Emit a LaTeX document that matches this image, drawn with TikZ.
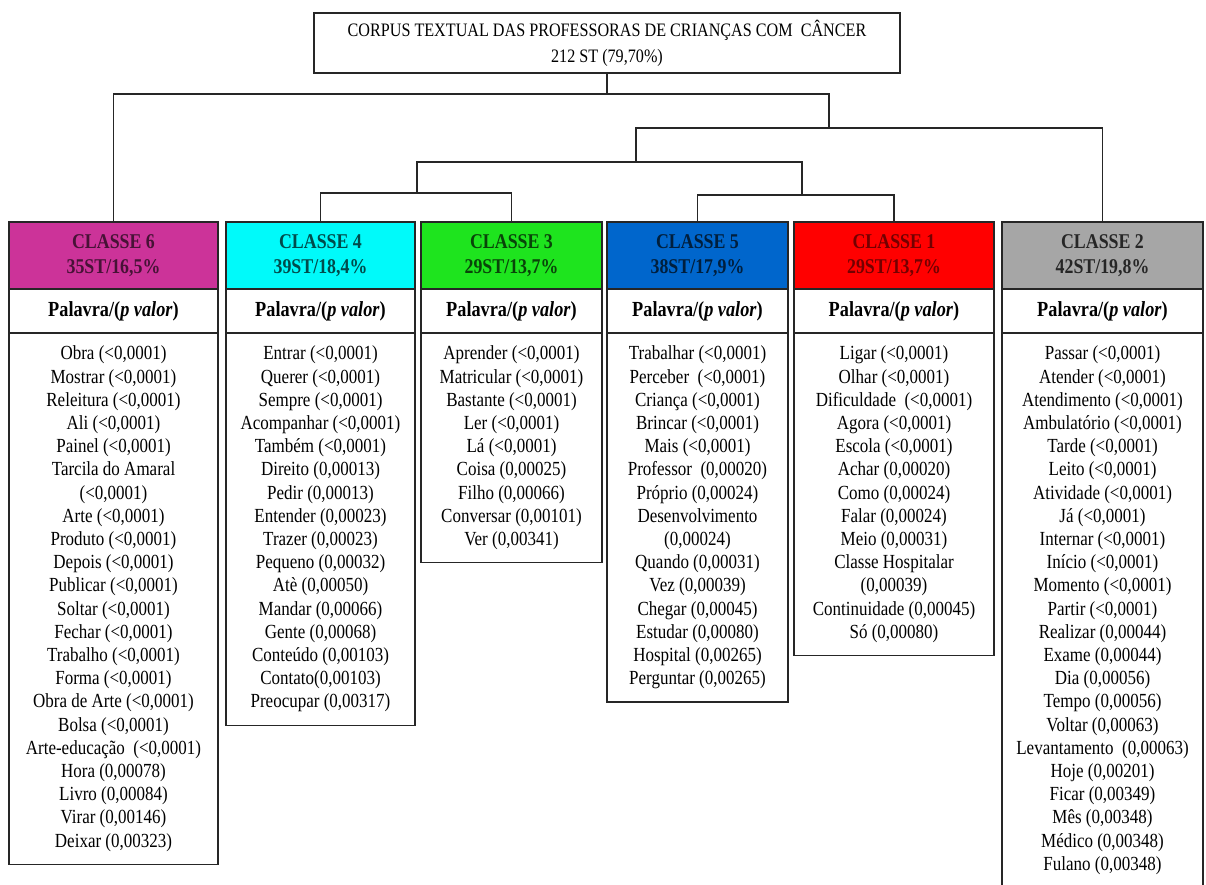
\documentclass[tikz,border=0pt]{standalone}
\usepackage{fontspec}
\setmainfont{Liberation Serif}[FakeStretch=0.85]
\usepackage{tikz}
\usetikzlibrary{positioning}
\definecolor{col6}{RGB}{204,51,153}
\definecolor{col4}{RGB}{0,250,250}
\definecolor{col3}{RGB}{30,228,30}
\definecolor{col5}{RGB}{0,102,204}
\definecolor{col1}{RGB}{255,0,0}
\definecolor{col2}{RGB}{166,166,166}
\tikzset{box/.style={draw=black!85,line width=1.2pt,outer sep=0pt,align=center},
  tree/.style={black!85,line width=1.2pt},
  classhead/.style={box,minimum width=#1,minimum height=67pt,font={\bfseries\fontsize{21}{25}\selectfont}},
  wordhead/.style={box,fill=white,minimum width=#1,minimum height=44pt,font={\bfseries\fontsize{21.5}{25}\selectfont}},
  wordlist/.style={box,fill=white,minimum width=#1,inner ysep=13pt,font={\fontsize{20}{23.2}\selectfont}},
  cls6/.style={fill=col6,text=col6!35!black},cls4/.style={fill=col4,text=col4!30!black},
  cls3/.style={fill=col3,text=col3!30!black},cls5/.style={fill=col5,text=col5!30!black},
  cls1/.style={fill=col1,text=col1!45!black},cls2/.style={fill=col2,text=black!85}}
\newcommand{\palavra}{Palavra/(\textit{p valor})}

\begin{document}
\begin{tikzpicture}[x=1pt,y=-1pt]

\useasboundingbox (0,0) rectangle (1206,885);
\clip (0,0) rectangle (1206,885);

% The corpus
\node[box,minimum width=586pt,minimum height=60pt,font={\fontsize{19}{26}\selectfont}] (corpus) at (607,43) {CORPUS TEXTUAL DAS PROFESSORAS DE CRIANÇAS COM \ CÂNCER\\212 ST (79,70\%)};

% The classes
\node[classhead=209pt,cls6] (class-6) at (113.5,255.5) {CLASSE 6\\35ST/16,5\%};
\node[classhead=189pt,cls4] (class-4) at (320.5,255.5) {CLASSE 4\\39ST/18,4\%};
\node[classhead=181pt,cls3] (class-3) at (511.5,255.5) {CLASSE 3\\29ST/13,7\%};
\node[classhead=181pt,cls5] (class-5) at (697.5,255.5) {CLASSE 5\\38ST/17,9\%};
\node[classhead=200pt,cls1] (class-1) at (894,255.5) {CLASSE 1\\29ST/13,7\%};
\node[classhead=201pt,cls2] (class-2) at (1102.5,255.5) {CLASSE 2\\42ST/19,8\%};

% The word headings
\node[wordhead=209pt,below=0pt of class-6] (words-6) {\palavra};
\node[wordhead=189pt,below=0pt of class-4] (words-4) {\palavra};
\node[wordhead=181pt,below=0pt of class-3] (words-3) {\palavra};
\node[wordhead=181pt,below=0pt of class-5] (words-5) {\palavra};
\node[wordhead=200pt,below=0pt of class-1] (words-1) {\palavra};
\node[wordhead=201pt,below=0pt of class-2] (words-2) {\palavra};

% The word lists
\node[wordlist=209pt,below=0pt of words-6] (list-6) {Obra (<0,0001)\\Mostrar (<0,0001)\\Releitura (<0,0001)\\Ali (<0,0001)\\Painel (<0,0001)\\Tarcila do Amaral\\(<0,0001)\\Arte (<0,0001)\\Produto (<0,0001)\\Depois (<0,0001)\\Publicar (<0,0001)\\Soltar (<0,0001)\\Fechar (<0,0001)\\Trabalho (<0,0001)\\Forma (<0,0001)\\Obra de Arte (<0,0001)\\Bolsa (<0,0001)\\Arte-educação \ (<0,0001)\\Hora (0,00078)\\Livro (0,00084)\\Virar (0,00146)\\Deixar (0,00323)};
\node[wordlist=189pt,below=0pt of words-4] (list-4) {Entrar (<0,0001)\\Querer (<0,0001)\\Sempre (<0,0001)\\Acompanhar (<0,0001)\\Também (<0,0001)\\Direito (0,00013)\\Pedir (0,00013)\\Entender (0,00023)\\Trazer (0,00023)\\Pequeno (0,00032)\\Atè (0,00050)\\Mandar (0,00066)\\Gente (0,00068)\\Conteúdo (0,00103)\\Contato(0,00103)\\Preocupar (0,00317)};
\node[wordlist=181pt,below=0pt of words-3] (list-3) {Aprender (<0,0001)\\Matricular (<0,0001)\\Bastante (<0,0001)\\Ler (<0,0001)\\Lá (<0,0001)\\Coisa (0,00025)\\Filho (0,00066)\\Conversar (0,00101)\\Ver (0,00341)};
\node[wordlist=181pt,below=0pt of words-5] (list-5) {Trabalhar (<0,0001)\\Perceber \ (<0,0001)\\Criança (<0,0001)\\Brincar (<0,0001)\\Mais (<0,0001)\\Professor \ (0,00020)\\Próprio (0,00024)\\Desenvolvimento\\(0,00024)\\Quando (0,00031)\\Vez (0,00039)\\Chegar (0,00045)\\Estudar (0,00080)\\Hospital (0,00265)\\Perguntar (0,00265)};
\node[wordlist=200pt,below=0pt of words-1] (list-1) {Ligar (<0,0001)\\Olhar (<0,0001)\\Dificuldade \ (<0,0001)\\Agora (<0,0001)\\Escola (<0,0001)\\Achar (0,00020)\\Como (0,00024)\\Falar (0,00024)\\Meio (0,00031)\\Classe Hospitalar\\(0,00039)\\Continuidade (0,00045)\\Só (0,00080)};
\node[wordlist=201pt,below=0pt of words-2] (list-2) {Passar (<0,0001)\\Atender (<0,0001)\\Atendimento (<0,0001)\\Ambulatório (<0,0001)\\Tarde (<0,0001)\\Leito (<0,0001)\\Atividade (<0,0001)\\Já (<0,0001)\\Internar (<0,0001)\\Início (<0,0001)\\Momento (<0,0001)\\Partir (<0,0001)\\Realizar (0,00044)\\Exame (0,00044)\\Dia (0,00056)\\Tempo (0,00056)\\Voltar (0,00063)\\Levantamento \ (0,00063)\\Hoje (0,00201)\\Ficar (0,00349)\\Mês (0,00348)\\Médico (0,00348)\\Fulano (0,00348)};

% The tree
\coordinate (split-1) at (607,94);
\coordinate (split-2) at (829,128);
\coordinate (split-3) at (636,162);
\coordinate (split-4) at (417,193);
\coordinate (split-5) at (802,195);
\draw[tree] (corpus.south) -- (split-1);
\draw[tree] (class-6.north) |- (split-1) -| (split-2);
\draw[tree] (split-2) -| (split-3);
\draw[tree] (split-2) -| (class-2.north);
\draw[tree] (split-3) -| (split-4);
\draw[tree] (split-3) -| (split-5);
\draw[tree] (split-4) -| (class-4.north);
\draw[tree] (split-4) -| (class-3.north);
\draw[tree] (split-5) -| (class-5.north);
\draw[tree] (split-5) -| (class-1.north);

\end{tikzpicture}
\end{document}
